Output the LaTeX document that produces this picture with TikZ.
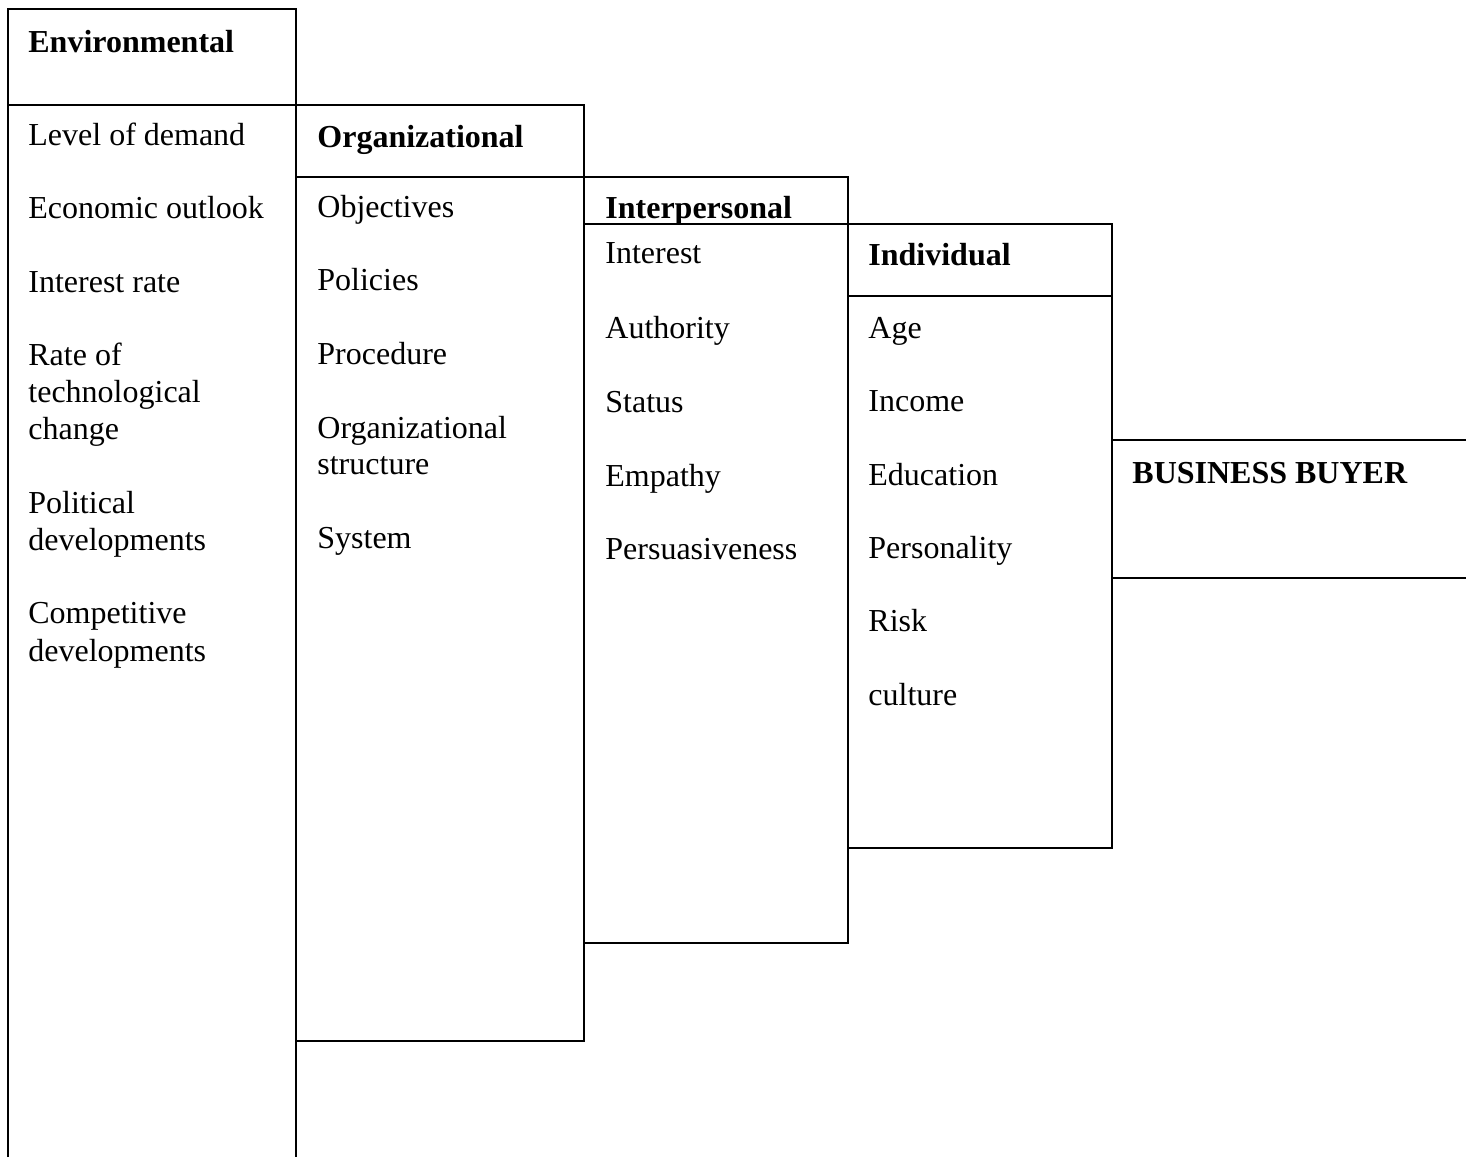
\documentclass[tikz,border=0pt]{standalone}
\usepackage{fontspec}
\setmainfont{Liberation Serif}
\begin{document}
\begin{tikzpicture}[x=0.5pt,y=-0.5pt,
  panel/.style={line width=1pt,line join=miter},
  item/.style={anchor=base west,inner sep=0pt,font=\fontsize{16pt}{18.5pt}\selectfont},
  head/.style={item,font=\fontsize{16pt}{18.5pt}\selectfont\bfseries}]
\useasboundingbox (0,0) rectangle (1466,1157);

% Environmental column (runs off the bottom edge)
\draw[panel] (8,1157) -- (8,9) -- (296,9) -- (296,1157);
\draw[panel] (8,105) -- (296,105);
% Organizational column
\draw[panel] (296,105) -- (584,105) -- (584,1041) -- (296,1041);
\draw[panel] (296,177) -- (584,177);
% Interpersonal column
\draw[panel] (584,177) -- (848,177) -- (848,943) -- (584,943);
\draw[panel] (584,224) -- (848,224);
% Individual column
\draw[panel] (848,224) -- (1112,224) -- (1112,848) -- (848,848);
\draw[panel] (848,296) -- (1112,296);
% Business buyer band
\draw[panel] (1112,440) -- (1466,440);
\draw[panel] (1112,578) -- (1466,578);

% Environmental
\node[head] (envh) at (28,52) {Environmental};
\node[item] (env1) at (28,145) {Level of demand};
\node[item] (env2) at (28,218) {Economic outlook};
\node[item] (env3) at (28,292) {Interest rate};
\node[item] (env4a) at (28,365) {Rate of};
\node[item] (env4b) at (28,402) {technological};
\node[item] (env4c) at (28,439) {change};
\node[item] (env5a) at (28,513) {Political};
\node[item] (env5b) at (28,550) {developments};
\node[item] (env6a) at (28,623) {Competitive};
\node[item] (env6b) at (28,661) {developments};

% Organizational
\node[head] (orgh) at (317,147) {Organizational};
\node[item] (org1) at (317,217) {Objectives};
\node[item] (org2) at (317,290) {Policies};
\node[item] (org3) at (317,364) {Procedure};
\node[item] (org4a) at (317,438) {Organizational};
\node[item] (org4b) at (317,474) {structure};
\node[item] (org5) at (317,548) {System};

% Interpersonal
\node[head] (inth) at (605,218) {Interpersonal};
\node[item] (int1) at (605,263) {Interest};
\node[item] (int2) at (605,338) {Authority};
\node[item] (int3) at (605,412) {Status};
\node[item] (int4) at (605,486) {Empathy};
\node[item] (int5) at (605,559) {Persuasiveness};

% Individual
\node[head] (indh) at (868,265) {Individual};
\node[item] (ind1) at (868,338) {Age};
\node[item] (ind2) at (868,411) {Income};
\node[item] (ind3) at (868,485) {Education};
\node[item] (ind4) at (868,558) {Personality};
\node[item] (ind5) at (868,631) {Risk};
\node[item] (ind6) at (868,705) {culture};

% Business buyer
\node[head] (bb) at (1132,483) {BUSINESS BUYER};
\end{tikzpicture}
\end{document}
